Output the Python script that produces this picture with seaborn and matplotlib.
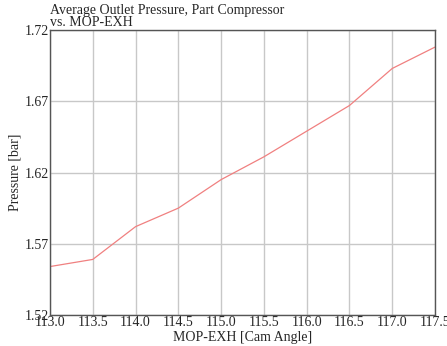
import matplotlib
matplotlib.use("Agg")
import matplotlib.pyplot as plt
import seaborn as sns
import pandas as pd

# data
cam_angle = [113.0, 113.5, 114.0, 114.5, 115.0, 115.5, 116.0, 116.5, 117.0, 117.5]
pressure = [1.554, 1.559, 1.582, 1.595, 1.615, 1.631, 1.649, 1.667, 1.693, 1.708]
y_ticks = [1.52, 1.57, 1.62, 1.67, 1.72]

df = pd.DataFrame({"MOP-EXH [Cam Angle]": cam_angle, "Pressure [bar]": pressure})

sns.set_style("white")
plt.rcParams["font.family"] = ["Liberation Serif", "DejaVu Serif"]

fig = plt.figure(figsize=(4.47, 3.46), dpi=100)
ax = fig.add_axes([50 / 447, 1 - 315 / 346, 385 / 447, 285 / 346])

sns.lineplot(data=df, x="MOP-EXH [Cam Angle]", y="Pressure [bar]", ax=ax,
             color="#f08080", linewidth=0.9)

ax.set_xlim(113.0, 117.5)
ax.set_ylim(1.52, 1.72)
ax.set_xticks(cam_angle)
ax.set_xticklabels([f"{v:.1f}" for v in cam_angle])
ax.set_yticks(y_ticks)
ax.set_yticklabels([f"{v:.2f}" for v in y_ticks])
ax.grid(True, color="#c8c8c8", linewidth=1.0)
ax.tick_params(labelsize=10, length=0, pad=1)
for s in ax.spines.values():
    s.set_color("#555555")
    s.set_linewidth(1.0)

ax.set_xlabel("MOP-EXH [Cam Angle]", fontsize=10, labelpad=1)
ax.set_ylabel("Pressure [bar]", fontsize=10, labelpad=2)

fig.text(50 / 447, 1 - 4 / 346, "Average Outlet Pressure, Part Compressor\nvs. MOP-EXH",
         fontsize=10, ha="left", va="top", linespacing=0.85)

fig.savefig("out.png", dpi=100)
